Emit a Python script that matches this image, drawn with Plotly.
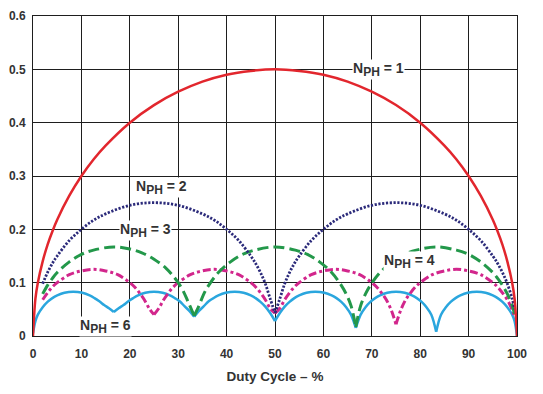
import plotly.graph_objects as go

# ---- data (duty cycle %, normalized ripple) ----
# None separates arches; each cusp point is repeated on both sides.
duty_n1 = [0, 0.5, 1, 2, 3, 4, 5, 7.5, 10, 12.5, 15, 20, 25, 30, 35, 40, 45, 50,
           55, 60, 65, 70, 75, 80, 85, 87.5, 90, 92.5, 95, 96, 97, 98, 99, 99.5, 100]
ripple_n1 = [0, 0.07, 0.1, 0.14, 0.171, 0.196, 0.218, 0.263, 0.3, 0.331, 0.357, 0.4, 0.433, 0.458,
             0.477, 0.49, 0.497, 0.5, 0.497, 0.49, 0.477, 0.458, 0.433, 0.4, 0.357, 0.331, 0.3,
             0.263, 0.218, 0.196, 0.171, 0.14, 0.1, 0.07, 0.0]

duty_n2 = [2, 3, 4, 5, 7.5, 10, 12.5, 15, 20, 25, 30, 35, 37.5, 40, 42.5, 45, 46, 47, 48, 49, 50,
           None,
           50, 51, 52, 53, 54, 55, 57.5, 60, 62.5, 65, 70, 75, 80, 85, 87.5, 90, 92.5, 95, 96, 97, 98, 99, 99.5]
ripple_n2 = [0.098, 0.119, 0.136, 0.15, 0.179, 0.2, 0.217, 0.229, 0.245, 0.25, 0.245, 0.229, 0.217, 0.2,
             0.179, 0.15, 0.136, 0.119, 0.098, 0.07, 0.043,
             None,
             0.043, 0.07, 0.098, 0.119, 0.136, 0.15, 0.179, 0.2, 0.217, 0.229, 0.245, 0.25, 0.245, 0.229,
             0.217, 0.2, 0.179, 0.15, 0.136, 0.119, 0.098, 0.07, 0.05]

duty_n3 = [2, 3, 4, 5, 7.5, 10, 12.5, 16.7, 20, 22.5, 25, 27.5, 29, 30, 31, 32, 33.3,
           None,
           33.3, 34.3, 35.3, 36.3, 38.3, 40.8, 43.3, 45.8, 50, 54.2, 56.7, 59.2, 61.7, 63.7, 64.7, 65.7, 66.7,
           None,
           66.7, 67.7, 68.7, 69.7, 71.7, 74.2, 76.7, 79.2, 83.3, 87.5, 90, 92.5, 95, 96, 97, 98, 99, 99.5]
ripple_n3 = [0.079, 0.095, 0.108, 0.119, 0.139, 0.153, 0.161, 0.167, 0.163, 0.156, 0.144, 0.127, 0.112,
             0.1, 0.085, 0.065, 0.038,
             None,
             0.038, 0.057, 0.079, 0.095, 0.119, 0.139, 0.153, 0.161, 0.167, 0.161, 0.153, 0.139, 0.119,
             0.095, 0.079, 0.057, 0.017,
             None,
             0.017, 0.057, 0.079, 0.095, 0.119, 0.139, 0.153, 0.161, 0.167, 0.161, 0.153, 0.139, 0.119,
             0.108, 0.095, 0.079, 0.057, 0.04]

duty_n4 = [2, 3, 4, 5, 7.5, 10, 12.5, 15, 17.5, 20, 21, 22, 23, 24, 25,
           None,
           25, 26, 27, 28, 29, 30, 32.5, 35, 37.5, 40, 42.5, 45, 46, 47, 48, 49, 50,
           None,
           50, 51, 52, 53, 54, 55, 57.5, 60, 62.5, 65, 67.5, 70, 71, 72, 73, 74, 75,
           None,
           75, 76, 77, 78, 79, 80, 82.5, 85, 87.5, 90, 92.5, 95, 96, 97, 98, 99, 99.5]
ripple_n4 = [0.068, 0.081, 0.092, 0.1, 0.115, 0.122, 0.125, 0.122, 0.115, 0.1, 0.092, 0.081, 0.068, 0.052, 0.04,
             None,
             0.04, 0.052, 0.068, 0.081, 0.092, 0.1, 0.115, 0.122, 0.125, 0.122, 0.115, 0.1, 0.092, 0.081,
             0.068, 0.052, 0.043,
             None,
             0.043, 0.052, 0.068, 0.081, 0.092, 0.1, 0.115, 0.122, 0.125, 0.122, 0.115, 0.1, 0.092, 0.081,
             0.068, 0.049, 0.022,
             None,
             0.022, 0.049, 0.068, 0.081, 0.092, 0.1, 0.115, 0.122, 0.125, 0.122, 0.115, 0.1, 0.092, 0.081,
             0.068, 0.049, 0.035]

duty_n6 = [0, 0.5, 1, 2, 3, 4, 5, 6.5, 8.3, 10.2, 11.7, 12.7, 13.7, 14.7, 15.7, 16.7,
           None,
           16.7, 17.7, 18.7, 19.7, 20.7, 21.7, 23.2, 25, 26.8, 28.3, 29.3, 30.3, 31.3, 32.3, 33.3,
           None,
           33.3, 34.3, 35.3, 36.3, 37.3, 38.3, 39.8, 41.7, 43.5, 45, 46, 47, 48, 49, 50,
           None,
           50, 51, 52, 53, 54, 55, 56.5, 58.3, 60.2, 61.7, 62.7, 63.7, 64.7, 65.7, 66.7,
           None,
           66.7, 67.7, 68.7, 69.7, 70.7, 71.7, 73.2, 75, 76.8, 78.3, 79.3, 80.3, 81.3, 82.3, 83.3,
           None,
           83.3, 84.3, 85.3, 86.3, 87.3, 88.3, 89.8, 91.7, 93.5, 95, 96, 97, 98, 99, 99.5, 100]
ripple_n6 = [0.005, 0.028, 0.04, 0.054, 0.064, 0.071, 0.076, 0.081, 0.083, 0.081, 0.076, 0.071, 0.065,
             0.058, 0.052, 0.045,
             None,
             0.045, 0.052, 0.058, 0.065, 0.071, 0.076, 0.081, 0.083, 0.081, 0.076, 0.071, 0.065, 0.056,
             0.047, 0.036,
             None,
             0.036, 0.047, 0.056, 0.065, 0.071, 0.076, 0.081, 0.083, 0.081, 0.076, 0.071, 0.064, 0.055,
             0.043, 0.028,
             None,
             0.028, 0.043, 0.055, 0.064, 0.071, 0.076, 0.081, 0.083, 0.081, 0.076, 0.071, 0.064, 0.054,
             0.04, 0.015,
             None,
             0.015, 0.04, 0.054, 0.064, 0.071, 0.076, 0.081, 0.083, 0.081, 0.076, 0.071, 0.064, 0.054,
             0.04, 0.008,
             None,
             0.008, 0.04, 0.054, 0.064, 0.071, 0.076, 0.081, 0.083, 0.081, 0.076, 0.071, 0.064, 0.054,
             0.04, 0.028, 0.0]

x_ticks = [0, 10, 20, 30, 40, 50, 60, 70, 80, 90, 100]
y_ticks = [0, 0.1, 0.2, 0.3, 0.4, 0.5, 0.6]
y_tick_text = ["0", "0.1", "0.2", "0.3", "0.4", "0.5", "0.6"]

label_ids = ["1", "2", "3", "4", "6"]
label_duty = [71.3, 26.5, 23.3, 77.7, 14.9]
label_ripple = [0.5, 0.278, 0.197, 0.139, 0.018]

# ---- styles ----
FONT = "Liberation Sans, Arial, sans-serif"
TXT = "#333333"

fig = go.Figure()
fig.add_trace(go.Scatter(x=duty_n6, y=ripple_n6, mode="lines", connectgaps=False,
                         line=dict(color="#2aa6de", width=2.5, shape="spline")))
fig.add_trace(go.Scatter(x=duty_n4, y=ripple_n4, mode="lines", connectgaps=False,
                         line=dict(color="#d2268c", width=3, shape="spline", dash="8px,3px,3px,3px")))
fig.add_trace(go.Scatter(x=duty_n3, y=ripple_n3, mode="lines", connectgaps=False,
                         line=dict(color="#23984a", width=3, shape="spline", dash="11px,5px")))
fig.add_trace(go.Scatter(x=duty_n2, y=ripple_n2, mode="lines", connectgaps=False,
                         line=dict(color="#2b2a7a", width=2.8, shape="spline", dash="2.2px,1.6px")))
fig.add_trace(go.Scatter(x=duty_n1, y=ripple_n1, mode="lines",
                         line=dict(color="#e2262d", width=2.5, shape="spline")))

for lid, xv, yv in zip(label_ids, label_duty, label_ripple):
    txt = "N<sub><span style='font-size:12px'>PH</span></sub> = " + lid
    fig.add_annotation(x=xv, y=yv, text=txt, showarrow=False, bgcolor="white",
                       font=dict(family=FONT, size=14, color=TXT, weight="bold"),
                       borderpad=0)

# the page body adds an 8px offset, so margins are shifted to compensate
fig.update_layout(
    width=543, height=394,
    margin=dict(l=25, r=34, t=8, b=66),
    paper_bgcolor="white", plot_bgcolor="white",
    showlegend=False,
    font=dict(family=FONT, size=12, color=TXT, weight="bold"),
)
fig.update_xaxes(range=[0, 100], tickvals=x_ticks, ticktext=[str(v) for v in x_ticks],
                 automargin=False,
                 showgrid=True, gridcolor="#1e1e1e", gridwidth=1,
                 showline=True, linecolor="#1e1e1e", linewidth=1, mirror=True,
                 zeroline=False, ticks="outside", ticklen=7, tickcolor="rgba(0,0,0,0)",
                 tickfont=dict(family=FONT, size=12, color=TXT, weight="bold"),
                 title=dict(text="Duty Cycle \u2013 %", standoff=11,
                            font=dict(family=FONT, size=13.5, color=TXT, weight="bold")))
fig.update_yaxes(range=[0, 0.6], tickvals=y_ticks, ticktext=y_tick_text,
                 automargin=False,
                 showgrid=True, gridcolor="#1e1e1e", gridwidth=1,
                 showline=True, linecolor="#1e1e1e", linewidth=1, mirror=True,
                 zeroline=False, ticks="outside", ticklen=4, tickcolor="rgba(0,0,0,0)",
                 tickfont=dict(family=FONT, size=12, color=TXT, weight="bold"))

fig.write_html("out.html")
